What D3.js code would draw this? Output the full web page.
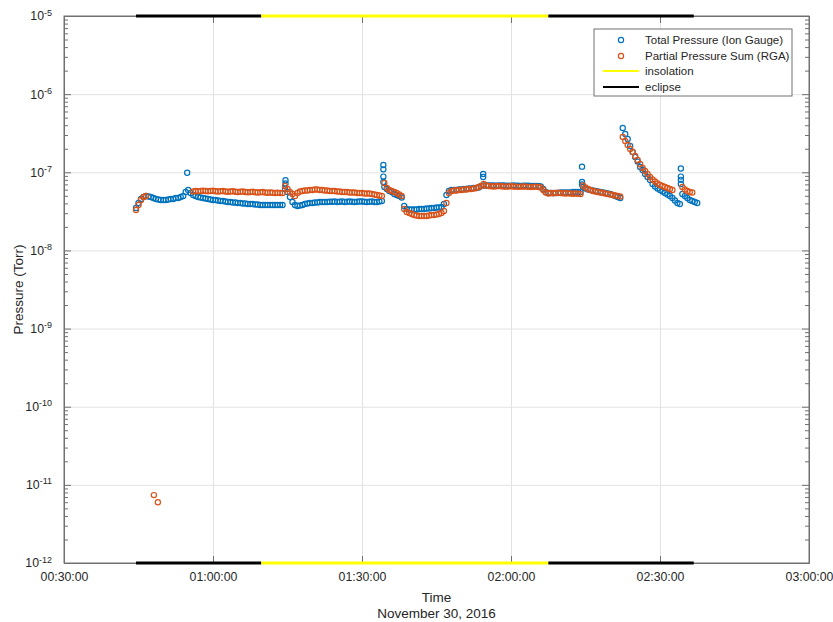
<!DOCTYPE html>
<html>
<head>
<meta charset="utf-8">
<script src="https://cdn.jsdelivr.net/npm/d3@7"></script>
<style>
body { margin: 0; background: #fff; }
svg { font-family: "Liberation Sans", Arial, Helvetica, sans-serif; }
.grid line { stroke: #e2e2e2; }
.grid path { display: none; }
.ax path, .ax line { stroke: #707070; }
.ax text { fill: #262626; font-size: 12.3px; }
</style>
</head>
<body>
<div id="vis"></div>
<script>
const FRAME_WIDTH = 833;
const FRAME_HEIGHT = 622;
const MARGINS = {left: 64, right: 24, top: 16, bottom: 59};
const WIDTH = FRAME_WIDTH - MARGINS.left - MARGINS.right;
const HEIGHT = FRAME_HEIGHT - MARGINS.top - MARGINS.bottom;

const DAY = "2016-11-30";
const UNIT = 1e-8;      // series values are in units of 1e-8 Torr
const STEP_SEC = 30;    // each row: start time, then one reading every 30 s

const xTickLabels = ["00:30:00", "01:00:00", "01:30:00", "02:00:00", "02:30:00", "03:00:00"];
const yExponents = [-12, -11, -10, -9, -8, -7, -6, -5];
const seriesNames = ["Total Pressure (Ion Gauge)", "Partial Pressure Sum (RGA)", "insolation", "eclipse"];

// Total pressure (ion gauge)
const ionGauge = [
  ["00:44:30", 3.49, 4.05, 4.55, 4.83, 4.97, 4.90, 4.83, 4.69, 4.55, 4.49],
  ["00:49:30", 4.42, 4.42, 4.42, 4.49, 4.55, 4.55, 4.69, 4.69, 4.83, 4.97],
  ["00:54:30", 5.60, 5.94, 5.43, 5.12, 4.97, 4.83, 4.76, 4.69, 4.62, 4.55],
  ["00:59:30", 4.49, 4.42, 4.42, 4.36, 4.29, 4.29, 4.23, 4.17, 4.17, 4.11],
  ["01:04:30", 4.11, 4.05, 4.05, 3.99, 3.99, 3.93, 3.93, 3.93, 3.87, 3.87],
  ["01:09:30", 3.82, 3.82, 3.82, 3.82, 3.82, 3.82, 3.82, 3.82, 3.82, 3.82],
  ["01:14:30", 6.12, 5.60, 4.83, 4.17, 3.82, 3.71, 3.76, 3.82, 3.93, 3.99],
  ["01:19:30", 4.05, 4.05, 4.11, 4.11, 4.17, 4.17, 4.17, 4.17, 4.20, 4.20],
  ["01:24:30", 4.23, 4.17, 4.20, 4.23, 4.17, 4.20, 4.23, 4.20, 4.17, 4.20],
  ["01:29:30", 4.23, 4.23, 4.20, 4.17, 4.20, 4.23, 4.17, 4.17, 4.23, 4.29],
  ["01:34:30", 6.49, 6.12, 5.76, 5.60, 5.27, 5.12, 4.97, 4.76, 3.71, 3.39],
  ["01:39:30", 3.34, 3.34, 3.34, 3.34, 3.39, 3.39, 3.39, 3.44, 3.44, 3.49],
  ["01:44:30", 3.49, 3.55, 3.55, 3.60, 3.93, 5.12, 5.76, 5.94, 5.94, 5.94],
  ["01:49:30", 6.03, 6.03, 6.12, 6.12, 6.21, 6.21, 6.30, 6.30, 6.39, 6.68],
  ["01:54:30", 6.78, 6.78, 6.78, 6.80, 6.78, 6.75, 6.78, 6.80, 6.78, 6.75],
  ["01:59:30", 6.72, 6.75, 6.78, 6.75, 6.72, 6.70, 6.72, 6.75, 6.72, 6.70],
  ["02:04:30", 6.68, 6.70, 6.68, 6.58, 6.12, 5.60, 5.43, 5.43, 5.43, 5.43],
  ["02:09:30", 5.43, 5.51, 5.51, 5.51, 5.51, 5.51, 5.60, 5.60, 5.60, 5.60],
  ["02:14:30", 6.49, 6.21, 6.03, 5.94, 5.85, 5.76, 5.68, 5.60, 5.51, 5.43],
  ["02:19:30", 5.35, 5.27, 5.12, 4.97, 4.83, 4.69, 36.9, 30.9, 26.7, 21.7],
  ["02:24:30", 18.2, 15.7, 13.7, 11.7, 10.7, 9.51, 8.71, 7.97, 7.08, 6.58],
  ["02:29:30", 6.21, 5.94, 5.68, 5.43, 5.20, 4.97, 4.69, 4.36, 4.05, 3.93],
  ["02:34:30", 5.27, 4.97, 4.69, 4.42, 4.29, 4.17, 4.05]
];
const ionGaugeSpikes = [
  ["00:54:48", 9.88],
  ["01:14:36", 7.9], ["01:14:36", 7.2],
  ["01:34:18", 12.4], ["01:34:18", 10.9], ["01:34:18", 8.8], ["01:34:18", 7.5],
  ["01:54:24", 9.5], ["01:54:24", 8.7],
  ["02:14:18", 11.8], ["02:14:18", 7.5], ["02:14:18", 7.0],
  ["02:34:12", 11.2], ["02:34:12", 8.8], ["02:34:12", 8.0], ["02:34:12", 7.1]
];

// Partial pressure sum (RGA), null = no reading
const rgaSum = [
  ["00:44:30", 3.29, 3.82, 4.42, 4.83, 4.97, null, null, null, null, null],
  ["00:54:30", null, null, null, 5.68, 5.76, 5.72, 5.76, 5.80, 5.76, 5.72],
  ["00:59:30", 5.76, 5.80, 5.72, 5.68, 5.72, 5.76, 5.68, 5.64, 5.68, 5.72],
  ["01:04:30", 5.64, 5.60, 5.64, 5.68, 5.60, 5.56, 5.60, 5.64, 5.56, 5.51],
  ["01:09:30", 5.56, 5.60, 5.51, 5.47, 5.51, 5.47, 5.43, 5.47, 5.43, 5.43],
  ["01:14:30", 6.68, 6.12, 5.60, 5.27, 4.97, 5.43, 5.68, 5.76, 5.85, 5.85],
  ["01:19:30", 5.94, 5.94, 6.03, 6.03, 5.94, 5.94, 5.85, 5.85, 5.76, 5.76],
  ["01:24:30", 5.76, 5.68, 5.68, 5.60, 5.60, 5.60, 5.51, 5.51, 5.51, 5.43],
  ["01:29:30", 5.43, 5.43, 5.35, 5.35, 5.35, 5.27, 5.20, 5.12, 5.05, 4.97],
  ["01:34:30", 7.30, 6.30, 5.94, 5.76, 5.60, 5.43, 5.20, 4.97, 3.39, 3.11],
  ["01:39:30", 3.02, 2.93, 2.84, 2.80, 2.76, 2.76, 2.76, 2.76, 2.80, 2.84],
  ["01:44:30", 2.84, 2.89, 2.93, 3.02, 3.20, 4.05, 5.43, 5.76, 5.85, 5.85],
  ["01:49:30", 5.94, 5.94, 6.03, 6.03, 6.12, 6.12, 6.21, 6.30, 6.49, 6.68],
  ["01:54:30", 7.08, 6.78, 6.68, 6.62, 6.58, 6.62, 6.68, 6.62, 6.58, 6.55],
  ["01:59:30", 6.58, 6.62, 6.58, 6.55, 6.51, 6.55, 6.58, 6.55, 6.51, 6.49],
  ["02:04:30", 6.51, 6.55, 6.49, 6.39, 5.94, 5.51, 5.35, 5.43, 5.39, 5.43],
  ["02:09:30", 5.47, 5.43, 5.39, 5.35, 5.39, 5.35, 5.31, 5.35, 5.31, 5.27],
  ["02:14:30", 6.78, 6.39, 6.12, 5.94, 5.76, 5.68, 5.60, 5.51, 5.43, 5.35],
  ["02:19:30", 5.27, 5.20, 5.12, 5.05, 4.97, 4.90, 28.3, 25.2, 22.4, 19.9],
  ["02:24:30", 18.2, 16.2, 14.4, 12.8, 11.35, 10.4, 9.51, 8.71, 8.09, 7.63],
  ["02:29:30", 7.19, 6.88, 6.68, 6.49, 6.30, 6.12, 5.94, null, null, null],
  ["02:34:30", 6.49, 6.03, 5.76, 5.60, 5.51]
];
const rgaSpikes = [["00:48:06", 0.00074], ["00:48:54", 0.00060]];

// sun / shadow periods, drawn along top and bottom of the axes
const insolation = [["01:09:42", "02:07:30"]];
const eclipse = [["00:44:30", "01:09:42"], ["02:07:30", "02:36:48"]];

const BLUE = "#0072BD";
const ORANGE = "#D95319";
const MARKER_R = 2.6;

const parseTime = d3.utcParse("%Y-%m-%d %H:%M:%S");
function toDate(s) { return parseTime(DAY + " " + s); }

function rowsToPoints(rows) {
  const pts = [];
  rows.forEach(function (row) {
    const t0 = toDate(row[0]);
    row.slice(1).forEach(function (v, i) {
      if (v != null) pts.push({t: new Date(+t0 + i * STEP_SEC * 1000), v: v * UNIT});
    });
  });
  return pts;
}
function spikesToPoints(list) {
  return list.map(function (d) { return {t: toDate(d[0]), v: d[1] * UNIT}; });
}

const bluePts = rowsToPoints(ionGauge).concat(spikesToPoints(ionGaugeSpikes));
const orangePts = rowsToPoints(rgaSum).concat(spikesToPoints(rgaSpikes));

const xTicks = xTickLabels.map(toDate);
const yTicks = yExponents.map(function (e) { return Math.pow(10, e); });
const yMinor = [];
yExponents.slice(0, -1).forEach(function (e) {
  for (let k = 2; k <= 9; k++) yMinor.push(k * Math.pow(10, e));
});

const xScale = d3.scaleUtc().domain([xTicks[0], xTicks[xTicks.length - 1]]).range([0, WIDTH]);
const yScale = d3.scaleLog().domain([yTicks[0], yTicks[yTicks.length - 1]]).range([HEIGHT, 0]);

const FRAME = d3.select("#vis")
  .append("svg")
    .attr("width", FRAME_WIDTH)
    .attr("height", FRAME_HEIGHT);

const g = FRAME.append("g").attr("transform", "translate(" + MARGINS.left + "," + MARGINS.top + ")");

// grid
g.append("g").attr("class", "grid")
  .attr("transform", "translate(0," + HEIGHT + ")")
  .call(d3.axisBottom(xScale).tickValues(xTicks).tickSize(-HEIGHT).tickFormat(""));
g.append("g").attr("class", "grid")
  .call(d3.axisLeft(yScale).tickValues(yTicks).tickSize(-WIDTH).tickFormat(""));

// markers
function drawSeries(pts, color) {
  g.append("g")
    .selectAll("circle")
    .data(pts)
    .enter()
    .append("circle")
      .attr("cx", function (d) { return xScale(d.t); })
      .attr("cy", function (d) { return yScale(d.v); })
      .attr("r", MARKER_R)
      .attr("fill", "none")
      .attr("stroke", color)
      .attr("stroke-width", 1.2);
}
drawSeries(bluePts, BLUE);
drawSeries(orangePts, ORANGE);

// axes
const fmt = d3.utcFormat("%H:%M:%S");
g.append("g").attr("class", "ax")
  .attr("transform", "translate(0," + HEIGHT + ")")
  .call(d3.axisBottom(xScale).tickValues(xTicks).tickFormat(fmt).tickSizeInner(-7).tickSizeOuter(0).tickPadding(9));
g.append("g").attr("class", "ax")
  .call(d3.axisTop(xScale).tickValues(xTicks).tickFormat("").tickSizeInner(-7).tickSizeOuter(0));

const yLeft = g.append("g").attr("class", "ax")
  .call(d3.axisLeft(yScale).tickValues(yTicks).tickSizeInner(-7).tickSizeOuter(0).tickPadding(12));
yLeft.selectAll(".tick text").each(function (d, i) {
  const t = d3.select(this).text(null);
  t.append("tspan").text("10");
  t.append("tspan").attr("dy", "-0.55em").attr("font-size", "9px").text(yExponents[i]);
});
g.append("g").attr("class", "ax")
  .call(d3.axisLeft(yScale).tickValues(yMinor).tickSizeInner(-4).tickSizeOuter(0).tickFormat(""));
g.append("g").attr("class", "ax")
  .attr("transform", "translate(" + WIDTH + ",0)")
  .call(d3.axisRight(yScale).tickValues(yTicks).tickSizeInner(-7).tickSizeOuter(0).tickFormat(""));
g.append("g").attr("class", "ax")
  .attr("transform", "translate(" + WIDTH + ",0)")
  .call(d3.axisRight(yScale).tickValues(yMinor).tickSizeInner(-4).tickSizeOuter(0).tickFormat(""));

g.append("rect")
  .attr("width", WIDTH).attr("height", HEIGHT)
  .attr("fill", "none").attr("stroke", "#707070");

// insolation / eclipse bars
function drawBars(list, color) {
  list.forEach(function (p) {
    [yTicks[yTicks.length - 1], yTicks[0]].forEach(function (v) {
      g.append("line")
        .attr("x1", xScale(toDate(p[0]))).attr("x2", xScale(toDate(p[1])))
        .attr("y1", yScale(v)).attr("y2", yScale(v))
        .attr("stroke", color).attr("stroke-width", 3);
    });
  });
}
drawBars(eclipse, "#000");
drawBars(insolation, "#ffff00");

// axis labels
g.append("text")
  .attr("x", WIDTH / 2).attr("y", HEIGHT + 39)
  .attr("text-anchor", "middle").attr("font-size", "13.5px").attr("fill", "#262626")
  .text("Time");
g.append("text")
  .attr("x", WIDTH / 2).attr("y", HEIGHT + 55)
  .attr("text-anchor", "middle").attr("font-size", "13.5px").attr("fill", "#262626")
  .text("November 30, 2016");
g.append("text")
  .attr("transform", "translate(-41," + HEIGHT / 2 + ") rotate(-90)")
  .attr("text-anchor", "middle").attr("font-size", "13.5px").attr("fill", "#262626")
  .text("Pressure (Torr)");

// legend
const lg = FRAME.append("g").attr("transform", "translate(594,29)");
lg.append("rect").attr("width", 198).attr("height", 67)
  .attr("fill", "#fff").attr("stroke", "#707070");
const rowY = [11, 27, 42, 58];
lg.append("circle").attr("cx", 27).attr("cy", rowY[0]).attr("r", MARKER_R)
  .attr("fill", "none").attr("stroke", BLUE).attr("stroke-width", 1.2);
lg.append("circle").attr("cx", 27).attr("cy", rowY[1]).attr("r", MARKER_R)
  .attr("fill", "none").attr("stroke", ORANGE).attr("stroke-width", 1.2);
lg.append("line").attr("x1", 9).attr("x2", 45).attr("y1", rowY[2]).attr("y2", rowY[2])
  .attr("stroke", "#ffff00").attr("stroke-width", 2);
lg.append("line").attr("x1", 9).attr("x2", 45).attr("y1", rowY[3]).attr("y2", rowY[3])
  .attr("stroke", "#000").attr("stroke-width", 2);
lg.selectAll("text.lab")
  .data(seriesNames)
  .enter()
  .append("text")
    .attr("x", 51)
    .attr("y", function (d, i) { return rowY[i]; })
    .attr("dy", "0.35em")
    .attr("font-size", "11.5px")
    .attr("fill", "#262626")
    .text(function (d) { return d; });
</script>
</body>
</html>
